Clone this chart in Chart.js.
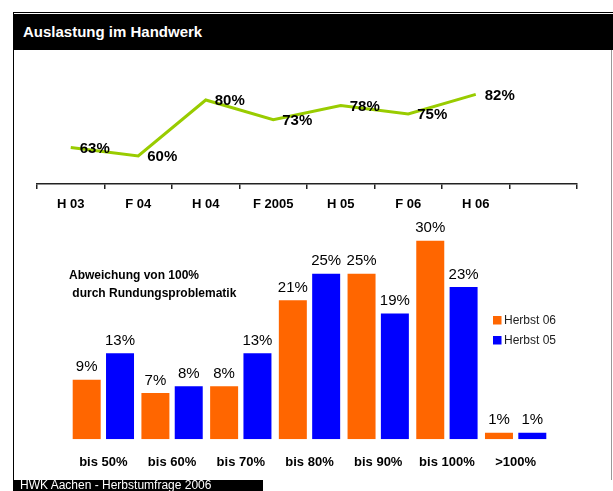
<!DOCTYPE html>
<html>
<head>
<meta charset="utf-8">
<script src="https://cdn.jsdelivr.net/npm/chart.js@4.4.0/dist/chart.umd.min.js"></script>
<style>
  body { margin: 0; background: #fff; }
  #wrap { position: relative; width: 613px; height: 491px; overflow: hidden; font-family: "Liberation Sans", Arial, sans-serif; }
  .abs { position: absolute; }
  #topline { left: 13px; top: 12px; width: 600px; height: 1px; background: #000; }
  #leftline { left: 13px; top: 12px; width: 1px; height: 479px; background: #000; }
  #rightline { left: 611px; top: 50px; width: 1px; height: 430px; background: #999; }
  #header { left: 14px; top: 14px; width: 599px; height: 36px; background: #000; color: #fff; font-weight: bold; font-size: 15px; line-height: 36px; padding-left: 9px; box-sizing: border-box; }
  #footer { left: 13px; top: 480px; width: 250px; height: 11px; background: #000; color: #fff; font-size: 12px; }
  #footer span { position: absolute; left: 7px; top: -2px; white-space: nowrap; }
  .note { font-weight: bold; font-size: 12px; color: #000; white-space: nowrap; }
</style>
</head>
<body>
<div id="wrap">
  <div class="abs" id="topline"></div>
  <div class="abs" id="header">Auslastung im Handwerk</div>
  <canvas class="abs" id="lineChart" width="613" height="230" style="left:0;top:0"></canvas>
  <canvas class="abs" id="barChart" width="613" height="278" style="left:0;top:200px"></canvas>
  <div class="abs note" style="left:69px;top:268px">Abweichung von 100%</div>
  <div class="abs note" style="left:69px;top:286px">&nbsp;durch Rundungsproblematik</div>
  <div class="abs" id="leftline"></div>
  <div class="abs" id="rightline"></div>
  <div class="abs" id="footer"><span>HWK Aachen - Herbstumfrage 2006</span></div>
</div>
<script>
// Auslastung (Linie)
const perioden = ['H 03', 'F 04', 'H 04', 'F 2005', 'H 05', 'F 06', 'H 06', ''];
const auslastung = [63, 60, 80, 73, 78, 75, 82, null];

// Abweichung (Balken)
const stufen = ['bis 50%', 'bis 60%', 'bis 70%', 'bis 80%', 'bis 90%', 'bis 100%', '>100%'];
const herbst06 = [9, 7, 8, 21, 25, 30, 1];
const herbst05 = [13, 8, 13, 25, 19, 23, 1];

const schrift = '"Liberation Sans", Arial, sans-serif';

const linienLabels = {
  id: 'linienLabels',
  afterDatasetsDraw(chart) {
    const ctx = chart.ctx;
    const meta = chart.getDatasetMeta(0);
    ctx.save();
    ctx.font = 'bold 15px ' + schrift;
    ctx.fillStyle = '#000';
    ctx.textAlign = 'left';
    ctx.textBaseline = 'middle';
    meta.data.forEach((p, i) => {
      const v = auslastung[i];
      if (v == null) return;
      ctx.fillText(v + '%', p.x + 9, p.y + 1);
    });
    ctx.restore();
  }
};

new Chart(document.getElementById('lineChart'), {
  type: 'line',
  data: {
    labels: perioden,
    datasets: [{
      label: 'Auslastung',
      data: auslastung,
      borderColor: '#99cc00',
      borderWidth: 3,
      pointRadius: 0,
      tension: 0,
      spanGaps: false
    }]
  },
  options: {
    responsive: false,
    animation: false,
    devicePixelRatio: 1,
    layout: { padding: { left: 37, right: 36, top: 58, bottom: 0 } },
    plugins: { legend: { display: false }, tooltip: { enabled: false } },
    scales: {
      x: {
        offset: true,
        afterFit: (s) => { s.height = 46; },
        grid: { offset: true, drawOnChartArea: false, drawTicks: true, tickLength: 5, color: '#222', lineWidth: 1.5 },
        border: { display: true, color: '#222', width: 1.5 },
        ticks: { color: '#000', font: { family: schrift, size: 13, weight: 'bold' }, padding: 8, maxRotation: 0, autoSkip: false }
      },
      y: { display: false, min: 50, max: 95 }
    }
  },
  plugins: [linienLabels]
});

const balkenLabels = {
  id: 'balkenLabels',
  afterDatasetsDraw(chart) {
    const ctx = chart.ctx;
    ctx.save();
    ctx.font = '15px ' + schrift;
    ctx.fillStyle = '#000';
    ctx.textAlign = 'center';
    ctx.textBaseline = 'middle';
    chart.data.datasets.forEach((ds, di) => {
      chart.getDatasetMeta(di).data.forEach((bar, i) => {
        ctx.fillText(ds.data[i] + '%', bar.x, bar.y - 12.5);
      });
    });
    // Legende
    ctx.font = '12px ' + schrift;
    ctx.textAlign = 'left';
    chart.data.datasets.forEach((ds, di) => {
      const y = 116 + di * 20;
      ctx.fillStyle = ds.backgroundColor;
      ctx.fillRect(493, y, 8.5, 8.5);
      ctx.fillStyle = '#222';
      ctx.fillText(ds.label, 504, y + 4.5);
    });
    ctx.restore();
  }
};

new Chart(document.getElementById('barChart'), {
  type: 'bar',
  data: {
    labels: stufen,
    datasets: [
      { label: 'Herbst 06', data: herbst06, backgroundColor: '#ff6600', barPercentage: 0.84, categoryPercentage: 0.97 },
      { label: 'Herbst 05', data: herbst05, backgroundColor: '#0000ff', barPercentage: 0.84, categoryPercentage: 0.97 }
    ]
  },
  options: {
    responsive: false,
    animation: false,
    devicePixelRatio: 1,
    layout: { padding: { left: 69, right: 63, top: 27.5, bottom: 0 } },
    plugins: { legend: { display: false }, tooltip: { enabled: false } },
    scales: {
      x: {
        afterFit: (s) => { s.height = 38.7; },
        grid: { display: false, drawTicks: false },
        border: { display: false },
        ticks: { color: '#000', font: { family: schrift, size: 13, weight: 'bold' }, padding: 15, maxRotation: 0, autoSkip: false }
      },
      y: { display: false, min: 0, max: 32 }
    }
  },
  plugins: [balkenLabels]
});
</script>
</body>
</html>
